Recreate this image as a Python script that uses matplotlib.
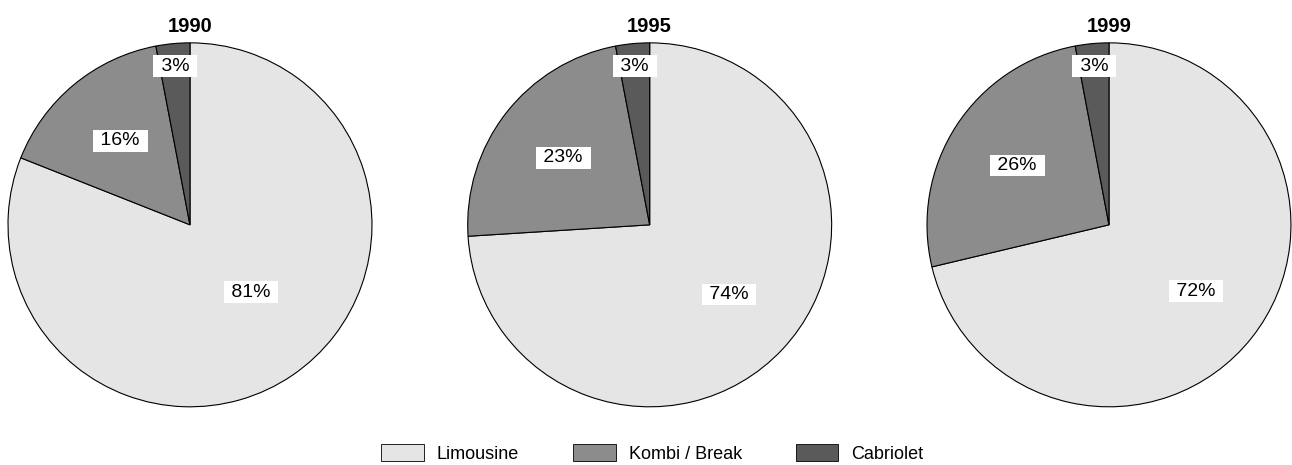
import numpy as np
import matplotlib.pyplot as plt
from matplotlib.patches import Patch

# -----------------------------
# data
# -----------------------------
years = ["1990", "1995", "1999"]
categories = ["Limousine", "Kombi / Break", "Cabriolet"]
shares_1990 = [81, 16, 3]
shares_1995 = [74, 23, 3]
shares_1999 = [72, 26, 3]
all_shares = [shares_1990, shares_1995, shares_1999]

colors = ["#e5e5e5", "#8c8c8c", "#5a5a5a"]
# label placement per pie: (radius fraction, angle nudge in degrees) for each slice
label_place = [
    [(0.50, 8), (0.60, 0), (0.875, 0)],
    [(0.58, 2), (0.60, 0), (0.875, 0)],
    [(0.60, 1), (0.60, 0), (0.875, 0)],
]

plt.rcParams['font.family'] = ['Liberation Sans', 'DejaVu Sans']

fig = plt.figure(figsize=(12.92, 4.65), dpi=100)
lefts = [0.0062, 0.362, 0.7175]
w, h, bottom = 0.2817, 0.783, 0.125

for left, year, shares, places in zip(lefts, years, all_shares, label_place):
    ax = fig.add_axes([left, bottom, w, h])
    wedges, _ = ax.pie(shares, colors=colors, startangle=90, counterclock=False,
                       radius=1.0,
                       wedgeprops=dict(edgecolor="black", linewidth=0.8))
    for wdg, val, (d, nudge) in zip(wedges, shares, places):
        ang = np.deg2rad((wdg.theta1 + wdg.theta2) / 2 + nudge)
        # spaces give the white box its side padding
        ax.text(d * np.cos(ang), d * np.sin(ang), f" {val}% ", ha="center", va="center",
                fontsize=14,
                bbox=dict(boxstyle="square,pad=0.12", facecolor="white", edgecolor="none"))
    ax.set_xlim(-1, 1)
    ax.set_ylim(-1, 1)
    ax.set_aspect("equal")
    ax.set_title(year, fontsize=14.5, fontweight="bold", pad=8)

handles = [Patch(facecolor=c, edgecolor="black", linewidth=0.6) for c in colors]
fig.legend(handles, categories, loc="center", ncol=3, frameon=False,
           fontsize=13, handlelength=2.35, handleheight=1.1, handletextpad=0.72,
           columnspacing=3.0, bbox_to_anchor=(0.505, 0.025))

fig.savefig("out.png", dpi=100)
